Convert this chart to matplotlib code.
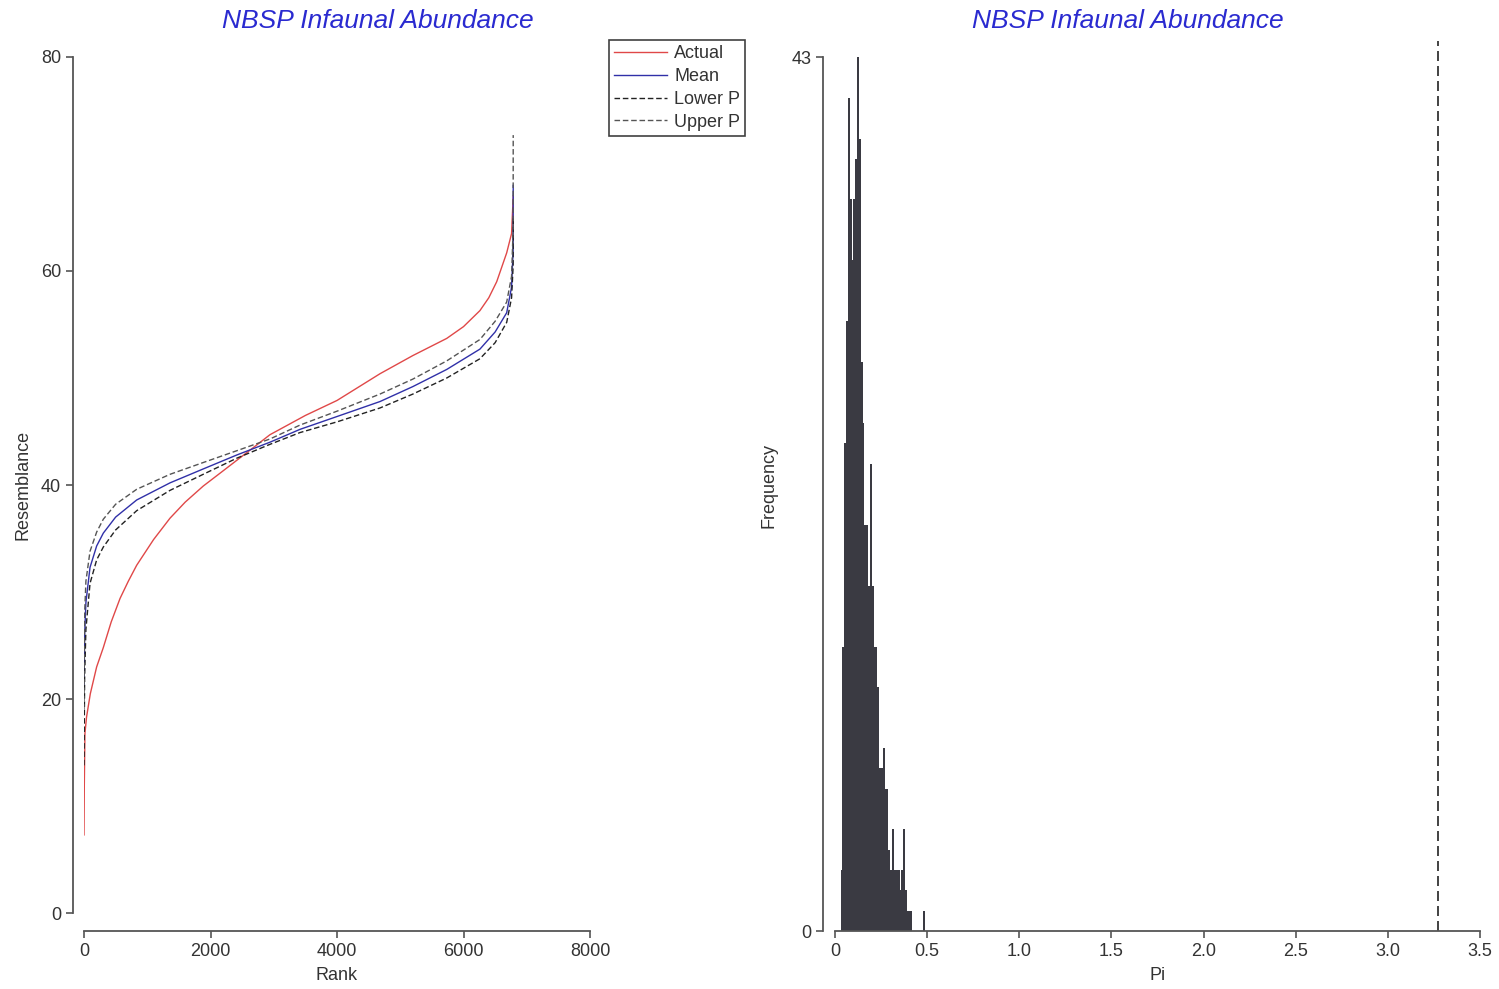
import matplotlib
matplotlib.use("Agg")
import matplotlib.pyplot as plt
import numpy as np
from matplotlib.ticker import FuncFormatter

plt.rcParams['font.family'] = ['Liberation Sans', 'DejaVu Sans']

# --- left panel: ranked resemblances -------------------------------------
actual_rank = [0, 5, 15, 40, 100, 200, 305, 430, 570, 700, 833, 1100, 1360, 1600,
               1885, 2150, 2414, 2700, 2940, 3500, 4000, 4680, 5200, 5735, 6000,
               6260, 6400, 6525, 6683, 6760, 6786]
actual_val = [7.3, 12, 16.8, 18.3, 20.5, 23, 24.8, 27.2, 29.4, 31.0, 32.5, 34.9, 36.9,
              38.4, 39.9, 41.1, 42.3, 43.6, 44.7, 46.5, 47.9, 50.4, 52.1, 53.7, 54.8,
              56.3, 57.5, 59.0, 61.7, 63.5, 67]

band_rank = [0, 10, 30, 95, 200, 305, 500, 833, 1360, 1885, 2414, 2940, 3415,
             4000, 4680, 5200, 5735, 6260, 6500, 6683, 6760, 6785, 6786]
mean_val = [21, 26, 29, 32.3, 34.3, 35.5, 37.0, 38.6, 40.2, 41.5, 42.8, 44.0, 45.2,
            46.4, 47.8, 49.2, 50.8, 52.7, 54.3, 56.1, 58.5, 62, 68]
lower_val = [13.8, 22, 26.5, 30.8, 33, 34.2, 35.8, 37.6, 39.5, 41.0, 42.5, 43.8, 44.9,
             45.9, 47.2, 48.5, 50.0, 51.8, 53.3, 55.2, 57.5, 60.5, 65]
upper_val = [19, 28, 31, 33.8, 35.6, 36.8, 38.2, 39.6, 41.0, 42.1, 43.2, 44.3, 45.6,
             46.9, 48.5, 49.9, 51.6, 53.6, 55.3, 57.1, 59.5, 64, 72.7]

# --- right panel: permutation distribution of Pi ---------------------------
pi_bin_left = [0.03, 0.04, 0.05, 0.06, 0.07, 0.08, 0.09, 0.10, 0.11, 0.12, 0.13,
               0.14, 0.15, 0.16, 0.17, 0.18, 0.19, 0.20, 0.21, 0.22, 0.23, 0.24,
               0.25, 0.26, 0.27, 0.28, 0.29, 0.30, 0.31, 0.32, 0.33, 0.34, 0.35,
               0.36, 0.37, 0.38, 0.39, 0.40, 0.41, 0.48]
pi_freq = [3, 14, 24, 30, 41, 36, 33, 36, 38, 43, 39,
           28, 25, 20, 20, 17, 23, 17, 14, 14, 12, 8,
           8, 9, 7, 7, 4, 3, 5, 3, 3, 3, 2,
           3, 5, 2, 1, 1, 1, 1]
pi_bin_width = 0.01
pi_observed = 3.27

title = "NBSP Infaunal Abundance"
title_color = '#2a2ad0'
text_color = '#333333'
spine_color = '#555555'

PX = 72 / 100  # points per pixel

fig = plt.figure(figsize=(14.99, 9.89), dpi=100)

def style_axes(ax):
    for s in ['top', 'right']:
        ax.spines[s].set_visible(False)
    for s in ['left', 'bottom']:
        ax.spines[s].set_color(spine_color)
        ax.spines[s].set_linewidth(1.3)
    ax.tick_params(colors=spine_color, labelcolor=text_color, labelsize=13,
                   length=5, width=1.2)

# left
ax1 = fig.add_axes([84 / 1499, 1 - 913 / 989, 506 / 1499, 856 / 989])
style_axes(ax1)
ax1.spines['left'].set_position(('outward', 11 * PX))
ax1.spines['bottom'].set_position(('outward', 18 * PX))
ax1.set_xlim(0, 8000)
ax1.set_ylim(0, 80)
ax1.set_xticks([0, 2000, 4000, 6000, 8000])
ax1.set_yticks([0, 20, 40, 60, 80])
ax1.plot(actual_rank, actual_val, color='#e04848', lw=1.0, label='Actual')
ax1.plot(band_rank, mean_val, color='#3030a8', lw=1.0, label='Mean')
ax1.plot(band_rank, lower_val, color='#222222', lw=1.0, ls=(0, (4, 2)), label='Lower P')
ax1.plot(band_rank, upper_val, color='#555555', lw=1.0, ls=(0, (4, 2)), label='Upper P')
ax1.set_xlabel('Rank', fontsize=13, color=text_color, labelpad=5)
ax1.set_ylabel('Resemblance', fontsize=13, color=text_color, labelpad=7)

leg = ax1.legend(loc='upper left', bbox_to_anchor=(609 / 1499, 1 - 40 / 989),
                 bbox_transform=fig.transFigure, frameon=True, fancybox=False,
                 fontsize=13, handlelength=2.9, handletextpad=0.4,
                 borderpad=0.3, labelspacing=0.32, borderaxespad=0)
leg.get_frame().set_edgecolor('#111111')
leg.get_frame().set_linewidth(1.2)
for t in leg.get_texts():
    t.set_color(text_color)

# right
ax2 = fig.add_axes([835 / 1499, 1 - 931 / 989, 645 / 1499, 890 / 989])
style_axes(ax2)
ax2.spines['left'].set_position(('outward', 12 * PX))
ax2.spines['left'].set_bounds(0, 43)
ax2.set_xlim(0, 3.5)
ax2.set_ylim(0, 43.8)
ax2.set_yticks([0, 43])
ax2.set_xticks(np.arange(0, 3.51, 0.5))
ax2.xaxis.set_major_formatter(FuncFormatter(lambda v, p: '0' if v == 0 else f'{v:.1f}'))
ax2.bar(pi_bin_left, pi_freq, width=pi_bin_width, align='edge',
        color='#3a3a42', edgecolor='none')
ax2.axvline(pi_observed, color='#222222', lw=1.2, ls=(0, (6, 3)))
ax2.set_xlabel('Pi', fontsize=13, color=text_color, labelpad=5)
ax2.set_ylabel('Frequency', fontsize=13, color=text_color, labelpad=10)

fig.text(378 / 1499, 1 - 21 / 989, title, ha='center', va='center',
         fontsize=19, style='italic', color=title_color)
fig.text(1128 / 1499, 1 - 21 / 989, title, ha='center', va='center',
         fontsize=19, style='italic', color=title_color)

fig.savefig('out.png', dpi=100)
